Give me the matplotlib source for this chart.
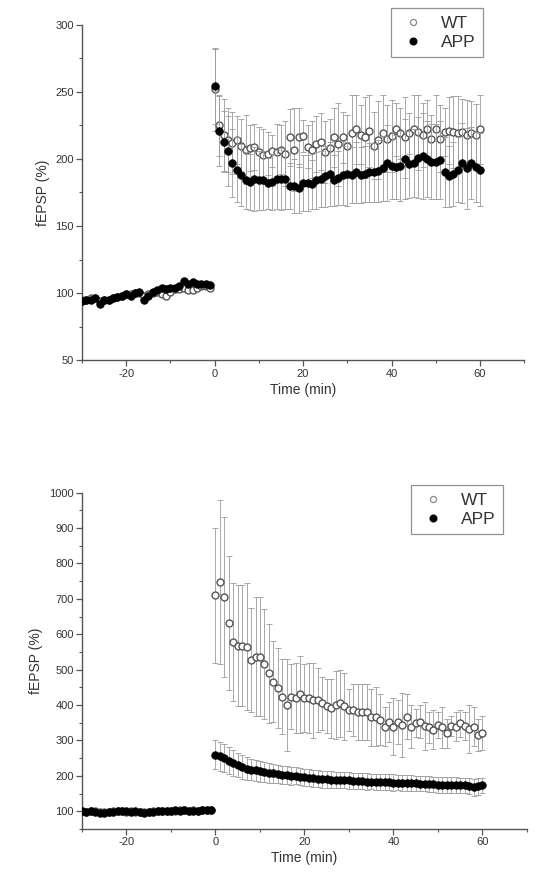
#!/usr/bin/env python3
"""
Two-panel fEPSP time course (WT vs APP), baseline then post-tetanic period.
"""

import numpy as np
import matplotlib
matplotlib.use("Agg")
import matplotlib.pyplot as plt
from matplotlib.ticker import MultipleLocator

plt.rcParams['font.family'] = ['Liberation Sans', 'DejaVu Sans']
plt.rcParams['axes.unicode_minus'] = False

# ---- time axes (min) ----
t_base = list(range(-30, 0))
t_post = list(range(0, 61))

# ---- top panel ----
top_wt_base = [95, 95, 96, 96, 94, 95, 95, 96, 97, 98, 99, 99, 100, 100, 98, 99,
               100, 101, 99, 98, 101, 103, 103, 104, 102, 102, 104, 105, 105, 104]
top_app_base = [94, 95, 95, 96, 92, 95, 95, 96, 97, 98, 99, 98, 100, 101, 95, 98,
                101, 102, 104, 103, 104, 104, 105, 109, 107, 108, 107, 107, 107, 106]
top_wt_post = [252, 225, 218, 214, 212, 214, 210, 207, 208, 209, 205, 203, 204, 206,
               205, 207, 204, 216, 207, 216, 217, 209, 207, 211, 213, 205, 208, 216,
               211, 216, 210, 219, 222, 218, 216, 221, 210, 214, 219, 215, 217, 222,
               219, 216, 219, 222, 220, 218, 222, 215, 222, 215, 220, 221, 220, 219,
               220, 218, 219, 218, 222]
top_wt_cap = [283, 248, 245, 238, 235, 232, 230, 233, 225, 226, 224, 222, 220, 218,
              226, 225, 228, 237, 238, 238, 229, 225, 228, 232, 234, 228, 230, 238,
              242, 235, 233, 248, 248, 240, 246, 248, 235, 243, 248, 240, 244, 242,
              238, 246, 234, 248, 248, 242, 244, 233, 248, 240, 238, 246, 247, 247,
              245, 244, 243, 241, 248]
top_app_post = [254, 221, 213, 206, 197, 192, 188, 184, 183, 185, 184, 184, 182, 183,
                185, 185, 185, 180, 180, 178, 182, 182, 181, 184, 185, 187, 189, 184,
                186, 188, 189, 188, 190, 188, 189, 190, 190, 191, 193, 197, 195, 194,
                195, 200, 196, 197, 201, 202, 200, 198, 198, 199, 190, 187, 189, 192,
                197, 193, 197, 194, 192]
top_app_low = [226, 195, 190, 180, 172, 168, 165, 163, 162, 161, 162, 162, 163, 162,
               163, 162, 163, 163, 160, 160, 161, 161, 163, 163, 164, 164, 165, 165,
               166, 166, 165, 167, 167, 167, 168, 168, 168, 168, 169, 169, 170, 170,
               169, 170, 171, 172, 171, 170, 172, 170, 170, 170, 164, 164, 165, 168,
               167, 163, 170, 168, 165]

# ---- bottom panel ----
bot_wt_base = [100, 99, 101, 100, 98, 97, 99, 100, 101, 100, 99, 100, 98, 99, 97, 98,
               100, 101, 100, 101, 102, 101, 103, 104, 102, 103, 102, 103, 104, 103]
bot_app_base = [101, 99, 100, 98, 96, 95, 97, 99, 101, 100, 100, 99, 100, 98, 96, 97,
                99, 100, 101, 100, 102, 103, 102, 104, 102, 101, 102, 103, 104, 103]
bot_wt_post = [710, 747, 705, 632, 578, 568, 568, 565, 528, 537, 537, 516, 490, 466,
               448, 424, 400, 424, 420, 430, 420, 420, 414, 414, 405, 398, 391, 400,
               405, 396, 386, 386, 381, 381, 381, 365, 367, 358, 339, 353, 339, 353,
               344, 367, 339, 350, 353, 341, 337, 330, 344, 337, 320, 341, 339, 348,
               341, 332, 339, 315, 322]
bot_wt_cap = [900, 978, 930, 820, 745, 740, 740, 745, 675, 705, 705, 670, 630, 580,
              560, 530, 530, 515, 520, 540, 515, 520, 520, 505, 480, 475, 475, 495,
              500, 490, 445, 460, 460, 460, 460, 445, 450, 430, 395, 410, 420, 415,
              435, 430, 400, 390, 400, 410, 380, 385, 380, 395, 360, 370, 380, 385,
              380, 400, 395, 360, 370]
bot_app_post = [260, 255, 250, 243, 236, 230, 225, 220, 218, 216, 213, 210, 208, 207,
                205, 203, 202, 200, 200, 198, 196, 195, 193, 192, 191, 190, 189, 189,
                188, 188, 187, 186, 185, 185, 184, 184, 183, 183, 182, 182, 181, 181,
                180, 180, 180, 179, 178, 178, 177, 176, 175, 175, 174, 174, 174, 173,
                173, 172, 168, 170, 173]
bot_app_cap = [300, 296, 290, 282, 272, 264, 258, 252, 248, 246, 242, 238, 235, 233,
               231, 229, 227, 225, 224, 222, 220, 219, 217, 216, 215, 214, 213, 212,
               211, 211, 210, 209, 208, 208, 207, 206, 206, 205, 205, 204, 204, 203,
               203, 202, 202, 201, 200, 200, 199, 198, 197, 197, 196, 196, 196, 195,
               195, 194, 192, 193, 195]

ERR_COLOR = '#9a9a9a'
TXT = '#333333'


def plot_series(ax, t, y, err, filled, z):
    ax.errorbar(t, y, yerr=err, fmt='none', ecolor=ERR_COLOR, elinewidth=0.6,
                capsize=2, capthick=0.6, zorder=z)
    if filled:
        ax.plot(t, y, 'o', ms=5.4, mfc='black', mec='black', mew=0.6, zorder=z + 1)
    else:
        ax.plot(t, y, 'o', ms=5.0, mfc='white', mec='#555555', mew=1.0, zorder=z + 1)


def style_axes(ax, ylim, ymajor, yminor):
    ax.set_xlim(-30, 70)
    ax.set_ylim(*ylim)
    for side in ('top', 'right'):
        ax.spines[side].set_visible(False)
    for side in ('left', 'bottom'):
        ax.spines[side].set_color('#555555')
        ax.spines[side].set_linewidth(1.0)
    ax.xaxis.set_major_locator(MultipleLocator(20))
    ax.xaxis.set_minor_locator(MultipleLocator(10))
    ax.yaxis.set_major_locator(MultipleLocator(ymajor))
    ax.yaxis.set_minor_locator(MultipleLocator(yminor))
    ax.set_xticks([-20, 0, 20, 40, 60])
    ax.tick_params(which='major', direction='out', length=4, width=0.9,
                   color='#555555', labelsize=8, labelcolor=TXT, pad=2)
    ax.tick_params(which='minor', direction='out', length=2.5, width=0.8,
                   color='#555555')
    ax.set_xlabel('Time (min)', fontsize=10, color=TXT, labelpad=3)
    ax.set_ylabel('fEPSP (%)', fontsize=10, color=TXT, labelpad=4)


def add_legend(fig, ax, anchor):
    h_wt, = ax.plot([], [], 'o', ms=4.4, mfc='white', mec='#888888', mew=0.9)
    h_app, = ax.plot([], [], 'o', ms=4.8, mfc='black', mec='black')
    leg = fig.legend([h_wt, h_app], ['WT', 'APP'], loc='upper right',
                     bbox_to_anchor=anchor, fontsize=12.5, frameon=True,
                     fancybox=False, edgecolor='#777777', handlelength=1.6,
                     handletextpad=0.8, borderpad=0.45, labelspacing=0.2,
                     borderaxespad=0)
    leg.get_frame().set_linewidth(0.9)
    for txt in leg.get_texts():
        txt.set_color(TXT)


fig = plt.figure(figsize=(5.36, 8.85), dpi=100)
ax1 = fig.add_axes([0.153, 0.593, 0.825, 0.379])
ax2 = fig.add_axes([0.153, 0.0633, 0.83, 0.380])

# top panel
wt_err = [c - v for c, v in zip(top_wt_cap, top_wt_post)]
app_err = [v - c for c, v in zip(top_app_low, top_app_post)]
plot_series(ax1, t_base, top_wt_base, [2] * len(t_base), False, 2)
plot_series(ax1, t_post, top_wt_post, wt_err, False, 2)
plot_series(ax1, t_base, top_app_base, [2] * len(t_base), True, 4)
plot_series(ax1, t_post, top_app_post, app_err, True, 4)
style_axes(ax1, (50, 300), 50, 25)
add_legend(fig, ax1, (483 / 536, 1 - 8 / 885))

# bottom panel
wt_err = [c - v for c, v in zip(bot_wt_cap, bot_wt_post)]
app_err = [c - v for c, v in zip(bot_app_cap, bot_app_post)]
plot_series(ax2, t_base, bot_wt_base, [3] * len(t_base), False, 2)
plot_series(ax2, t_post, bot_wt_post, wt_err, False, 2)
plot_series(ax2, t_base, bot_app_base, [3] * len(t_base), True, 4)
plot_series(ax2, t_post, bot_app_post, app_err, True, 4)
style_axes(ax2, (50, 1000), 100, 50)
add_legend(fig, ax2, (503 / 536, 1 - 485 / 885))

fig.savefig('out.png', dpi=100)
